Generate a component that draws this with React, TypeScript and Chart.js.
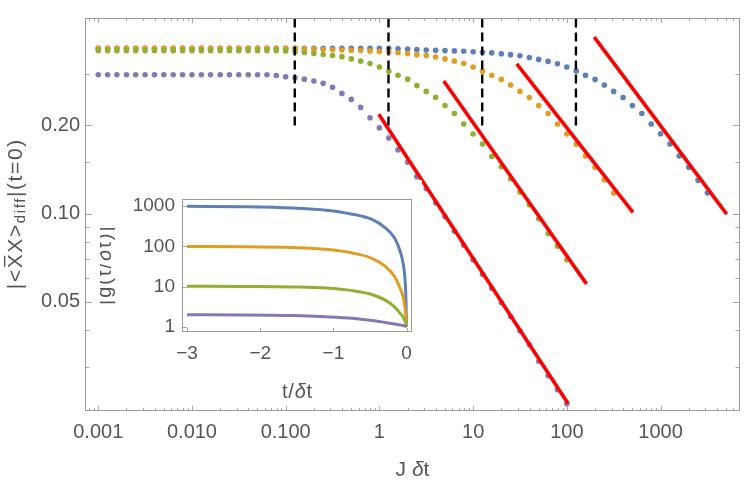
import { useEffect, useRef } from 'react';
import { Chart, registerables } from 'chart.js';

Chart.register(...registerables);

const FONT = "'Liberation Sans', Arial, Helvetica, sans-serif";
const LABEL_COLOR = '#555555';
const FRAME_COLOR = '#9a9a9a';
const TICK_MARK_COLOR = '#a6a6a6';

const BLUE = '#5e81b5';
const ORANGE = '#e19c24';
const GREEN = '#8fb032';
const PURPLE = '#8778b3';
const FIT_RED = '#ff0000';

// J δt sampling grid, ten points per decade
const J_DT = [
  0.001, 0.00126, 0.00158, 0.002, 0.00251, 0.00316, 0.00398, 0.00501, 0.00631, 0.00794,
  0.01, 0.0126, 0.0158, 0.02, 0.0251, 0.0316, 0.0398, 0.0501, 0.0631, 0.0794,
  0.1, 0.126, 0.158, 0.2, 0.251, 0.316, 0.398, 0.501, 0.631, 0.794,
  1, 1.26, 1.58, 2, 2.51, 3.16, 3.98, 5.01, 6.31, 7.94,
  10, 12.6, 15.8, 20, 25.1, 31.6, 39.8, 50.1, 63.1, 79.4,
  100, 126, 158, 200, 251, 316, 398, 501, 631, 794,
  1000, 1260, 1580, 2000, 2510, 3160,
];

// |<X̄X>diff|(t=0) for the four runs
const BLUE_DIFF = [
  0.367, 0.367, 0.367, 0.367, 0.367, 0.367, 0.367, 0.367, 0.367, 0.367,
  0.367, 0.367, 0.367, 0.367, 0.367, 0.367, 0.367, 0.367, 0.367, 0.367,
  0.367, 0.367, 0.367, 0.367, 0.367, 0.367, 0.367, 0.367, 0.367, 0.367,
  0.367, 0.367, 0.3659, 0.3645, 0.3631, 0.3622, 0.3611, 0.3603, 0.3595, 0.3584,
  0.357, 0.3556, 0.354, 0.3518, 0.3491, 0.3462, 0.3415, 0.3363, 0.3311, 0.3249,
  0.3167, 0.3071, 0.2969, 0.2873, 0.275, 0.2614, 0.2493, 0.2341, 0.2196, 0.2023,
  0.1874, 0.1727, 0.1573, 0.144, 0.1299, 0.1177,
];

const ORANGE_DIFF = [
  0.367, 0.367, 0.367, 0.367, 0.367, 0.367, 0.367, 0.367, 0.367, 0.367,
  0.367, 0.367, 0.367, 0.367, 0.367, 0.367, 0.367, 0.367, 0.367, 0.367,
  0.367, 0.367, 0.3653, 0.3645, 0.3636, 0.3628, 0.3622, 0.3614, 0.3606, 0.3595,
  0.3581, 0.3564, 0.3545, 0.3521, 0.3491, 0.3465, 0.3428, 0.3376, 0.3317, 0.3256,
  0.3167, 0.3066, 0.2969, 0.2873, 0.275, 0.2614, 0.2493, 0.2341, 0.2196, 0.2023,
  0.1869, 0.1725, 0.1573, 0.144, 0.1304, 0.1175,
];

const GREEN_DIFF = [
  0.3603, 0.3603, 0.3603, 0.3603, 0.3603, 0.3603, 0.3603, 0.3603, 0.3603, 0.3603,
  0.3603, 0.3603, 0.3603, 0.3603, 0.3603, 0.3603, 0.3603, 0.3603, 0.3603, 0.3603,
  0.3595, 0.3575, 0.3554, 0.3526, 0.3494, 0.3467, 0.3436, 0.3376, 0.3317, 0.3256,
  0.3167, 0.3062, 0.2969, 0.2879, 0.2737, 0.2614, 0.2497, 0.2341, 0.2196, 0.2023,
  0.1869, 0.1727, 0.1567, 0.1446, 0.1314, 0.1184, 0.1072, 0.0959, 0.0854, 0.0774,
  0.0695,
];

const PURPLE_DIFF = [
  0.298, 0.298, 0.298, 0.298, 0.298, 0.298, 0.298, 0.298, 0.298, 0.298,
  0.298, 0.298, 0.298, 0.298, 0.298, 0.298, 0.298, 0.298, 0.298, 0.2962,
  0.2933, 0.2911, 0.2879, 0.2836, 0.2786, 0.2702, 0.2574, 0.2455, 0.2305, 0.2125,
  0.1962, 0.1813, 0.165, 0.1496, 0.1337, 0.1217, 0.1088, 0.0976, 0.087, 0.078,
  0.0695, 0.062, 0.0556, 0.0496, 0.0445, 0.0397, 0.0356, 0.0313, 0.0279, 0.025,
  0.0224,
];

// power-law guides (start, end)
const FIT_BLUE_X = [196, 5077];
const FIT_BLUE_Y = [0.4005, 0.0996];
const FIT_ORANGE_X = [29.2, 508];
const FIT_ORANGE_Y = [0.3248, 0.1009];
const FIT_GREEN_X = [4.86, 162];
const FIT_GREEN_Y = [0.2836, 0.0575];
const FIT_PURPLE_X = [0.985, 103];
const FIT_PURPLE_Y = [0.2185, 0.02244];

// vertical markers
const MARK_X = [0.125, 1.25, 12.5, 125];
const MARK_Y = [0.2, 0.5];

const X_MIN = 7.4e-4;
const X_MAX = 6870;
const Y_MIN = 0.02115;
const Y_MAX = 0.4658;

const X_TICKS = [0.001, 0.01, 0.1, 1, 10, 100, 1000];
const X_TICK_LABELS = ['0.001', '0.010', '0.100', '1', '10', '100', '1000'];
const Y_TICKS = [0.05, 0.1, 0.2];
const Y_TICK_LABELS = ['0.05', '0.10', '0.20'];
const Y_MINOR = [0.03, 0.04, 0.06, 0.07, 0.08, 0.09, 0.15, 0.3];

// inset: |g(t/δt)|
const TAU = [-3, -2.2, -1.55, -1.1, -0.74, -0.475, -0.3, -0.165, -0.085, -0.05, -0.025, -0.012, 0];
const G_BLUE = [1000, 970, 900, 800, 635, 470, 300, 162, 73, 40, 18, 7, 1];
const G_ORANGE = [100, 99, 94, 85, 69, 51, 33, 18, 8.8, 5.8, 3.2, 2.0, 1];
const G_GREEN = [10.3, 10.2, 9.9, 9.3, 8.0, 6.4, 4.7, 3.16, 2.14, 1.8, 1.45, 1.25, 1];
const G_PURPLE = [2.0, 1.99, 1.92, 1.79, 1.64, 1.45, 1.3, 1.19, 1.12, 1.09, 1.06, 1.03, 1];

const TAU_TICKS = [-3, -2, -1, 0];
const TAU_TICK_LABELS = ['\u22123', '\u22122', '\u22121', '0'];
const G_TICKS = [1, 10, 100, 1000];
const G_TICK_LABELS = ['1', '10', '100', '1000'];

type Run = { text: string; size: number; italic?: boolean; dy?: number; overline?: boolean };

function runFont(r: Run) {
  return `${r.italic ? 'italic ' : ''}${r.size}px ${FONT}`;
}

function drawRuns(ctx: CanvasRenderingContext2D, runs: Run[], cx: number, baseline: number, spacing = 0) {
  ctx.textAlign = 'left';
  ctx.textBaseline = 'alphabetic';
  (ctx as any).letterSpacing = `${spacing}px`;
  const widths = runs.map((r) => {
    ctx.font = runFont(r);
    return ctx.measureText(r.text).width;
  });
  const total = widths.reduce((a, b) => a + b, 0) - spacing;
  let x = cx - total / 2;
  runs.forEach((r, i) => {
    ctx.font = runFont(r);
    const by = baseline + (r.dy || 0);
    ctx.fillText(r.text, x, by);
    if (r.overline) {
      ctx.fillRect(x + 1.5, by - r.size * 0.86, widths[i] - spacing - 3, 1.4);
    }
    x += widths[i];
  });
  (ctx as any).letterSpacing = '0px';
}

function points(xs: number[], ys: number[]) {
  return ys.map((y, i) => ({ x: xs[i], y }));
}

function dotSet(values: number[], color: string) {
  return {
    data: points(J_DT, values),
    showLine: false,
    pointRadius: 2.8,
    pointHoverRadius: 2.8,
    pointBorderWidth: 0,
    pointBackgroundColor: color,
    backgroundColor: color,
    borderColor: color,
  };
}

function fitSet(xs: number[], ys: number[]) {
  return {
    data: points(xs, ys),
    showLine: true,
    borderColor: FIT_RED,
    borderWidth: 3.6,
    pointRadius: 0,
    pointHoverRadius: 0,
    fill: false,
  };
}

function markSet(x: number) {
  return {
    data: MARK_Y.map((y) => ({ x, y })),
    showLine: true,
    borderColor: '#000000',
    borderWidth: 2.4,
    borderDash: [9, 5],
    pointRadius: 0,
    pointHoverRadius: 0,
    fill: false,
    clip: 0,
  };
}

const mainFrame = {
  id: 'mainFrame',
  afterDraw(chart: any) {
    const { ctx, chartArea: a } = chart;
    const xs = chart.scales.x;
    const ys = chart.scales.y;
    ctx.save();
    ctx.lineWidth = 1;
    ctx.strokeStyle = TICK_MARK_COLOR;
    ctx.beginPath();
    const xTick = (v: number, len: number) => {
      const p = Math.round(xs.getPixelForValue(v)) + 0.5;
      ctx.moveTo(p, a.bottom);
      ctx.lineTo(p, a.bottom - len);
      ctx.moveTo(p, a.top);
      ctx.lineTo(p, a.top + len);
    };
    const yTick = (v: number, len: number) => {
      const p = Math.round(ys.getPixelForValue(v)) + 0.5;
      ctx.moveTo(a.left, p);
      ctx.lineTo(a.left + len, p);
      ctx.moveTo(a.right, p);
      ctx.lineTo(a.right - len, p);
    };
    X_TICKS.forEach((v) => xTick(v, 5));
    for (let d = 1e-4; d < X_MAX; d *= 10) {
      for (let m = 2; m <= 9; m++) {
        const v = d * m;
        if (v > X_MIN && v < X_MAX) xTick(v, 3);
      }
    }
    Y_TICKS.forEach((v) => yTick(v, 6));
    Y_MINOR.forEach((v) => yTick(v, 3.5));
    ctx.stroke();
    ctx.strokeStyle = FRAME_COLOR;
    ctx.strokeRect(Math.round(a.left) - 0.5, Math.round(a.top) + 0.5, Math.round(a.width) + 1, Math.round(a.height) - 1);

    ctx.fillStyle = LABEL_COLOR;
    drawRuns(ctx, [
      { text: 'J ', size: 21 },
      { text: '\u03b4', size: 21, italic: true },
      { text: 't', size: 21 },
    ], (a.left + a.right) / 2, 476);

    ctx.translate(22, (a.top + a.bottom) / 2);
    ctx.rotate(-Math.PI / 2);
    drawRuns(ctx, [
      { text: '|<', size: 21 },
      { text: 'X', size: 21, overline: true },
      { text: 'X>', size: 21 },
      { text: 'diff', size: 15, dy: 3 },
      { text: '|(t=0)', size: 21 },
    ], 0, 0, 1.6);
    ctx.restore();
  },
};

const insetFrame = {
  id: 'insetFrame',
  afterDraw(chart: any) {
    const { ctx, chartArea: a } = chart;
    const xs = chart.scales.x;
    const ys = chart.scales.y;
    ctx.save();
    ctx.lineWidth = 1;
    ctx.strokeStyle = TICK_MARK_COLOR;
    ctx.beginPath();
    TAU_TICKS.forEach((v) => {
      const p = Math.round(xs.getPixelForValue(v)) + 0.5;
      ctx.moveTo(p, a.bottom);
      ctx.lineTo(p, a.bottom - 4);
    });
    G_TICKS.forEach((v) => {
      const p = Math.round(ys.getPixelForValue(v)) + 0.5;
      ctx.moveTo(a.left, p);
      ctx.lineTo(a.left + 4, p);
    });
    ctx.stroke();
    ctx.strokeStyle = FRAME_COLOR;
    ctx.strokeRect(Math.round(a.left) - 0.5, Math.round(a.top) + 0.5, Math.round(a.width) + 1, Math.round(a.height) - 1);

    ctx.fillStyle = LABEL_COLOR;
    drawRuns(ctx, [
      { text: 't/', size: 20 },
      { text: '\u03b4', size: 20, italic: true },
      { text: 't', size: 20 },
    ], (a.left + a.right) / 2, 218, 0.8);

    ctx.translate(11, (a.top + a.bottom) / 2);
    ctx.rotate(-Math.PI / 2);
    drawRuns(ctx, [
      { text: '|g(t/', size: 20 },
      { text: '\u03b4', size: 20, italic: true },
      { text: 't)|', size: 20 },
    ], 0, 0, 2);
    ctx.restore();
  },
};

function curveSet(values: number[], color: string) {
  return {
    data: points(TAU, values),
    showLine: true,
    borderColor: color,
    borderWidth: 3,
    pointRadius: 0,
    pointHoverRadius: 0,
    cubicInterpolationMode: 'monotone',
    fill: false,
  };
}

export default function App() {
  const mainRef = useRef<HTMLCanvasElement>(null);
  const insetRef = useRef<HTMLCanvasElement>(null);

  useEffect(() => {
    const main = new Chart(mainRef.current as HTMLCanvasElement, {
      type: 'scatter',
      data: {
        datasets: [
          fitSet(FIT_PURPLE_X, FIT_PURPLE_Y),
          fitSet(FIT_GREEN_X, FIT_GREEN_Y),
          fitSet(FIT_ORANGE_X, FIT_ORANGE_Y),
          fitSet(FIT_BLUE_X, FIT_BLUE_Y),
          ...MARK_X.map((x) => markSet(x)),
          dotSet(PURPLE_DIFF, PURPLE),
          dotSet(GREEN_DIFF, GREEN),
          dotSet(ORANGE_DIFF, ORANGE),
          dotSet(BLUE_DIFF, BLUE),
        ] as any,
      },
      options: {
        animation: false,
        responsive: false,
        devicePixelRatio: 1,
        events: [],
        layout: { padding: { left: 0, right: 11, top: 8, bottom: 0 } },
        plugins: { legend: { display: false }, tooltip: { enabled: false } },
        scales: {
          x: {
            type: 'logarithmic',
            min: X_MIN,
            max: X_MAX,
            grid: { display: false, drawTicks: false },
            border: { display: false },
            afterBuildTicks: (s: any) => {
              s.ticks = X_TICKS.map((value) => ({ value }));
            },
            afterFit: (s: any) => {
              s.height = 77;
            },
            ticks: {
              autoSkip: false,
              maxRotation: 0,
              minRotation: 0,
              padding: 9,
              color: LABEL_COLOR,
              font: { family: FONT, size: 20 },
              callback: (_v: any, i: number) => X_TICK_LABELS[i],
            },
          },
          y: {
            type: 'logarithmic',
            min: Y_MIN,
            max: Y_MAX,
            grid: { display: false, drawTicks: false },
            border: { display: false },
            afterBuildTicks: (s: any) => {
              s.ticks = Y_TICKS.map((value) => ({ value }));
            },
            afterFit: (s: any) => {
              s.width = 86;
            },
            ticks: {
              autoSkip: false,
              padding: 6,
              color: LABEL_COLOR,
              font: { family: FONT, size: 20 },
              callback: (_v: any, i: number) => Y_TICK_LABELS[i],
            },
          },
        },
      } as any,
      plugins: [mainFrame],
    });

    const inset = new Chart(insetRef.current as HTMLCanvasElement, {
      type: 'scatter',
      data: {
        datasets: [
          curveSet(G_PURPLE, PURPLE),
          curveSet(G_GREEN, GREEN),
          curveSet(G_ORANGE, ORANGE),
          curveSet(G_BLUE, BLUE),
        ] as any,
      },
      options: {
        animation: false,
        responsive: false,
        devicePixelRatio: 1,
        events: [],
        layout: { padding: { left: 0, right: 5, top: 8, bottom: 0 } },
        plugins: { legend: { display: false }, tooltip: { enabled: false } },
        scales: {
          x: {
            type: 'linear',
            min: -3.055,
            max: 0.06,
            grid: { display: false, drawTicks: false },
            border: { display: false },
            afterBuildTicks: (s: any) => {
              s.ticks = TAU_TICKS.map((value) => ({ value }));
            },
            afterFit: (s: any) => {
              s.height = 74;
            },
            ticks: {
              autoSkip: false,
              maxRotation: 0,
              minRotation: 0,
              padding: 10,
              color: LABEL_COLOR,
              font: { family: FONT, size: 19 },
              callback: (_v: any, i: number) => TAU_TICK_LABELS[i],
            },
          },
          y: {
            type: 'logarithmic',
            min: 0.75,
            max: 1480,
            grid: { display: false, drawTicks: false },
            border: { display: false },
            afterBuildTicks: (s: any) => {
              s.ticks = G_TICKS.map((value) => ({ value }));
            },
            afterFit: (s: any) => {
              s.width = 83;
            },
            ticks: {
              autoSkip: false,
              padding: 8,
              color: LABEL_COLOR,
              font: { family: FONT, size: 19 },
              callback: (_v: any, i: number) => G_TICK_LABELS[i],
            },
          },
        },
      } as any,
      plugins: [insetFrame],
    });

    return () => {
      main.destroy();
      inset.destroy();
    };
  }, []);

  return (
    <div style={{ position: 'absolute', left: 0, top: 0, width: 750, height: 488, background: '#ffffff' }}>
      <canvas
        ref={mainRef}
        width={750}
        height={488}
        style={{ position: 'absolute', left: 0, top: 0, width: 750, height: 488 }}
      />
      <canvas
        ref={insetRef}
        width={322}
        height={226}
        style={{ position: 'absolute', left: 100, top: 180, width: 322, height: 226, background: '#ffffff' }}
      />
    </div>
  );
}
